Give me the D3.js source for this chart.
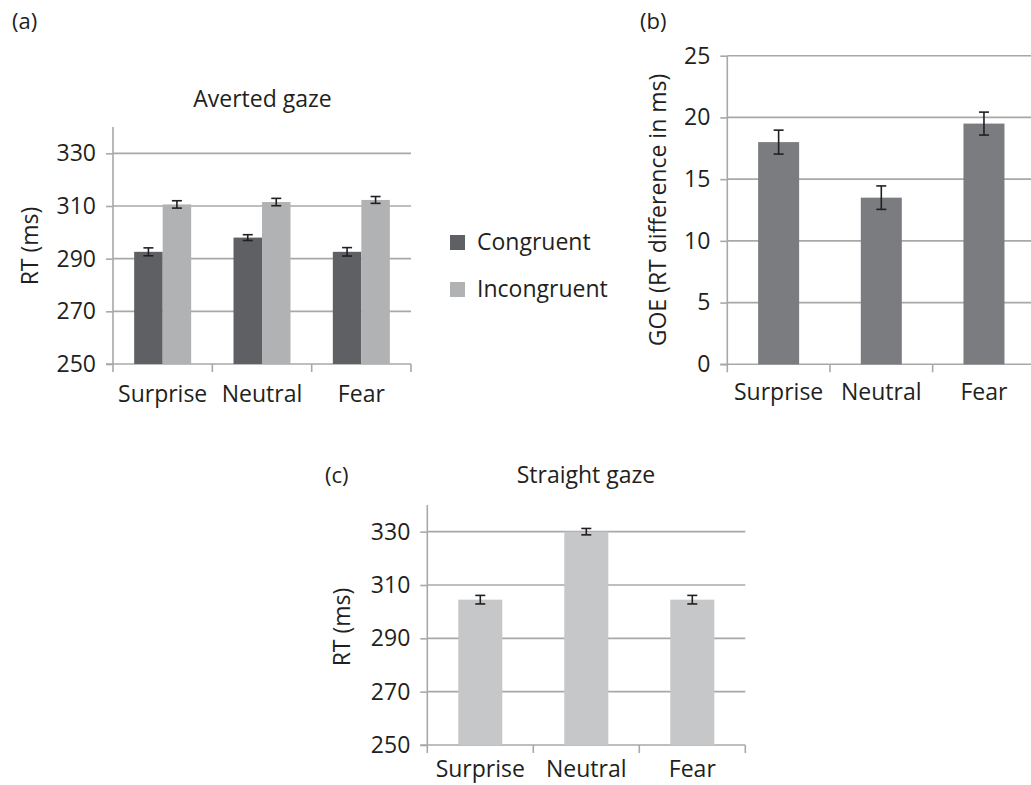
<!DOCTYPE html>
<html>
<head>
<meta charset="utf-8">
<script src="https://cdn.jsdelivr.net/npm/d3@7"></script>
<style>
  html, body { margin: 0; padding: 0; background: #fff; }
  svg { display: block; font-family: "Open Sans", "Noto Sans", sans-serif; }
</style>
</head>
<body>
<svg id="chart" width="1031" height="785"></svg>
<script>
// ---------- data ----------
const categories = ["Surprise", "Neutral", "Fear"];
const seriesNames = ["Congruent", "Incongruent"];

// (a) Averted gaze RT (ms)
const avertedCongruent = [292.6, 298.0, 292.6];
const avertedCongruentErr = [1.5, 1.1, 1.6];
const avertedIncongruent = [310.6, 311.5, 312.3];
const avertedIncongruentErr = [1.4, 1.4, 1.3];

// (b) Gaze orienting effect (ms)
const goeValues = [18.0, 13.5, 19.5];
const goeErr = [0.97, 0.95, 0.93];

// (c) Straight gaze RT (ms)
const straightValues = [304.5, 330.0, 304.5];
const straightErr = [1.6, 1.2, 1.6];

// tick labels
const rtTicks = [250, 270, 290, 310, 330];
const goeTicks = [0, 5, 10, 15, 20, 25];

// ---------- styles ----------
const gridColor = "#a8a8a8";
const textColor = "#231f20";
const colCongruent = "#5f6063";
const colIncongruent = "#b1b2b4";
const colGoe = "#7b7c80";
const colStraight = "#c5c7c9";
const errColor = "#231f20";

const svg = d3.select("#chart");

function drawFrame(g, x, y, ticks, yMax, labelDy) {
  const [x0, x1] = x.range();
  // gridlines
  g.selectAll(".grid").data(ticks.filter(t => t !== y.domain()[0])).join("line")
    .attr("x1", x0).attr("x2", x1)
    .attr("y1", d => y(d)).attr("y2", d => y(d))
    .attr("stroke", gridColor).attr("stroke-width", 1.6);
  // y axis
  const yAxis = d3.axisLeft(y).tickValues(ticks).tickSize(7).tickPadding(10).tickFormat(d3.format("d"));
  const ya = g.append("g").attr("transform", `translate(${x0},0)`).call(yAxis);
  ya.select(".domain").attr("stroke", gridColor).attr("stroke-width", 1.6)
    .attr("d", `M0,${y(yMax)}V${y.range()[0]}`);
  ya.selectAll(".tick line").attr("stroke", gridColor).attr("stroke-width", 1.6);
  ya.selectAll(".tick text").attr("fill", textColor).style("font-size", "23px")
    .style("font-family", '"Open Sans", sans-serif');
  // x axis
  const xa = g.append("g").attr("transform", `translate(0,${y.range()[0]})`);
  xa.append("line").attr("x1", x0 - 7).attr("x2", x1).attr("y1", 0).attr("y2", 0)
    .attr("stroke", gridColor).attr("stroke-width", 1.6);
  const bounds = [x0].concat(categories.map(c => x(c) + x.bandwidth()));
  xa.selectAll(".xt").data(bounds).join("line")
    .attr("x1", d => d).attr("x2", d => d).attr("y1", 0).attr("y2", 8)
    .attr("stroke", gridColor).attr("stroke-width", 1.6);
  xa.selectAll(".xl").data(categories).join("text")
    .attr("x", d => x(d) + x.bandwidth() / 2).attr("y", labelDy)
    .attr("text-anchor", "middle").attr("fill", textColor)
    .style("font-size", "23px").text(d => d);
}

function errorBars(g, xs, ys, errs, y) {
  const cap = 5;
  xs.forEach((cx, i) => {
    const top = y(ys[i] + errs[i]), bot = y(ys[i] - errs[i]);
    g.append("line").attr("x1", cx).attr("x2", cx).attr("y1", top).attr("y2", bot)
      .attr("stroke", errColor).attr("stroke-width", 1.6);
    [top, bot].forEach(v => g.append("line").attr("x1", cx - cap).attr("x2", cx + cap)
      .attr("y1", v).attr("y2", v).attr("stroke", errColor).attr("stroke-width", 1.6));
  });
}

function yLabel(text, cx, cy) {
  svg.append("text").attr("transform", `translate(${cx},${cy}) rotate(-90)`)
    .attr("text-anchor", "middle").attr("dominant-baseline", "central")
    .attr("fill", textColor).style("font-size", "23px").text(text);
}

function label(text, x, y, anchor, size) {
  svg.append("text").attr("x", x).attr("y", y).attr("text-anchor", anchor || "start")
    .attr("fill", textColor).style("font-size", (size || 22) + "px").text(text);
}

// ---------- (a) ----------
{
  const g = svg.append("g");
  const x = d3.scaleBand().domain(categories).range([113, 411]);
  const y = d3.scaleLinear().domain([250, 340]).range([364, 127]);
  drawFrame(g, x, y, rtTicks, 340, 38);
  const bw = 28.5;
  const series = [avertedCongruent, avertedIncongruent];
  const errs = [avertedCongruentErr, avertedIncongruentErr];
  const cols = [colCongruent, colIncongruent];
  series.forEach((vals, s) => {
    const off = s === 0 ? -bw : 0;
    g.selectAll(".bar" + s).data(vals).join("rect")
      .attr("x", (d, i) => x(categories[i]) + x.bandwidth() / 2 + off)
      .attr("width", bw)
      .attr("y", d => y(d)).attr("height", d => y(250) - y(d))
      .attr("fill", cols[s]);
  });
  series.forEach((vals, s) => {
    const off = s === 0 ? -bw / 2 : bw / 2;
    errorBars(g, categories.map(c => x(c) + x.bandwidth() / 2 + off), vals, errs[s], y);
  });
  // legend
  const lg = svg.append("g");
  seriesNames.forEach((n, i) => {
    lg.append("rect").attr("x", 450).attr("y", 235 + i * 47).attr("width", 15).attr("height", 15)
      .attr("fill", cols[i]);
    lg.append("text").attr("x", 477).attr("y", 250 + i * 47).attr("fill", textColor)
      .style("font-size", "23px").text(n);
  });
  label("Averted gaze", 262.5, 107, "middle", 23);
  yLabel("RT (ms)", 29, 246);
  label("(a)", 12, 29, "start", 22);
}

// ---------- (b) ----------
{
  const g = svg.append("g");
  const x = d3.scaleBand().domain(categories).range([727.3, 1035.3]);
  const y = d3.scaleLinear().domain([0, 25]).range([364.3, 55.7]);
  drawFrame(g, x, y, goeTicks, 25, 36);
  const bw = 41;
  g.selectAll(".bar").data(goeValues).join("rect")
    .attr("x", (d, i) => x(categories[i]) + x.bandwidth() / 2 - bw / 2)
    .attr("width", bw)
    .attr("y", d => y(d)).attr("height", d => y(0) - y(d))
    .attr("fill", colGoe);
  errorBars(g, categories.map(c => x(c) + x.bandwidth() / 2), goeValues, goeErr, y);
  yLabel("GOE (RT difference in ms)", 657, 210);
  label("(b)", 640, 29, "start", 22);
}

// ---------- (c) ----------
{
  const g = svg.append("g");
  const x = d3.scaleBand().domain(categories).range([427.3, 745.3]);
  const y = d3.scaleLinear().domain([250, 340]).range([745, 505]);
  drawFrame(g, x, y, rtTicks, 340, 32);
  const bw = 44;
  g.selectAll(".bar").data(straightValues).join("rect")
    .attr("x", (d, i) => x(categories[i]) + x.bandwidth() / 2 - bw / 2)
    .attr("width", bw)
    .attr("y", d => y(d)).attr("height", d => y(250) - y(d))
    .attr("fill", colStraight);
  errorBars(g, categories.map(c => x(c) + x.bandwidth() / 2), straightValues, straightErr, y);
  label("Straight gaze", 586, 483, "middle", 23);
  yLabel("RT (ms)", 341, 627);
  label("(c)", 325, 483, "start", 22);
}
</script>
</body>
</html>
